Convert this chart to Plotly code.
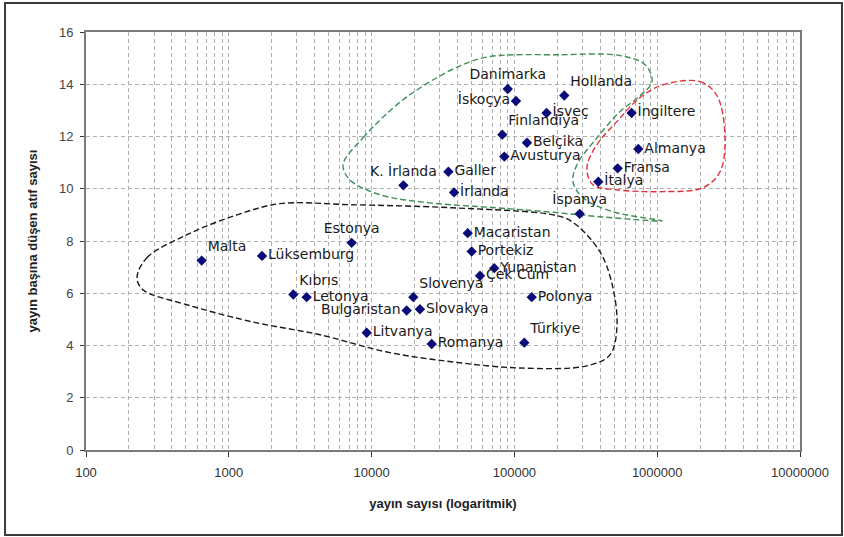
import plotly.graph_objects as go

# ---- data ----
countries = ["Danimarka", "İskoçya", "Hollanda", "İsveç", "Finlandiya", "Belçika",
             "Avusturya", "Galler", "K. İrlanda", "İrlanda", "İspanya",
             "İngiltere", "Almanya", "Fransa", "İtalya",
             "Malta", "Lüksemburg", "Estonya", "Kıbrıs", "Letonya", "Slovenya",
             "Bulgaristan", "Slovakya", "Litvanya", "Romanya",
             "Macaristan", "Portekiz", "Yunanistan", "Çek Cum", "Polonya", "Türkiye"]
publications = [89800, 102600, 223600, 168000, 82300, 122500,
                85000, 34500, 16700, 37800, 286500,
                662000, 737600, 528800, 387000,
                646, 1708, 7250, 2830, 3510, 19600,
                17600, 21800, 9240, 26360,
                47100, 50200, 72300, 57400, 132200, 117300]
citations_per_pub = [13.82, 13.36, 13.57, 12.90, 12.07, 11.76,
                     11.23, 10.65, 10.13, 9.86, 9.04,
                     12.90, 11.52, 10.78, 10.27,
                     7.25, 7.43, 7.93, 5.95, 5.85, 5.85,
                     5.34, 5.39, 4.49, 4.06,
                     8.30, 7.60, 6.96, 6.67, 5.85, 4.11]

# hand-drawn group outlines (data units)
green_x = [6310, 8710, 15070, 25650, 43650, 67450, 208400, 548000, 822000, 920000,
           758600, 548000, 378400, 274200, 257000, 302000, 489800, 1081000,
           397000, 169000, 75500, 25650, 11460, 7060, 6310]
green_y = [10.92, 11.95, 13.22, 14.10, 14.75, 15.06, 15.13, 15.10, 14.75, 14.10,
           13.56, 12.95, 11.95, 10.92, 10.27, 9.66, 9.12, 8.77,
           8.93, 9.12, 9.27, 9.46, 9.77, 10.34, 10.92]
red_x = [1099000, 1995000, 2624000, 2985000, 2754000, 2094000, 1099000,
         522000, 354800, 322000, 378400, 522000, 758600, 1099000]
red_y = [13.98, 14.10, 13.56, 11.95, 10.65, 10.04, 9.89,
         9.96, 10.15, 10.80, 11.69, 12.57, 13.49, 13.98]
black_x = [227.5, 267, 509, 1140, 2285, 7060, 37150, 186200, 253000, 397000,
           489800, 522000, 466600, 322000, 109400, 37150, 12820, 4355, 1476,
           509, 251, 227.5]
black_y = [6.59, 7.36, 8.24, 9.00, 9.43, 9.39, 9.27, 9.00, 8.74, 7.59,
           6.21, 4.67, 3.64, 3.22, 3.14, 3.37, 3.75, 4.41, 4.90,
           5.56, 6.13, 6.59]

x_tick_vals = [100, 1000, 10000, 100000, 1000000, 10000000]
x_tick_text = ["100", "1000", "10000", "100000", "1000000", "10000000"]
y_tick_vals = [0, 2, 4, 6, 8, 10, 12, 14, 16]

x_title = "yayın sayısı (logaritmik)"
y_title = "yayın başına düşen atıf sayısı"

# label placement (style)
label_pos = ["top center", "middle left", "top right", "middle right", "top right", "middle right",
             "middle right", "middle right", "top center", "middle right", "top center",
             "middle right", "middle right", "middle right", "middle right",
             "top right", "middle right", "top center", "top right", "middle right", "top right",
             "middle left", "middle right", "middle right", "middle right",
             "middle right", "middle right", "middle right", "middle right", "middle right", "top right"]

fig = go.Figure()

for ox, oy, col in [(green_x, green_y, "#3f8f55"), (red_x, red_y, "#e0303c"), (black_x, black_y, "#1a1a1a")]:
    fig.add_trace(go.Scatter(x=ox, y=oy, mode="lines",
                             line=dict(color=col, width=1.4, dash="6px,3px", shape="spline", smoothing=1.0),
                             hoverinfo="skip", showlegend=False))

fig.add_trace(go.Scatter(
    x=publications, y=citations_per_pub, mode="markers+text",
    text=countries, textposition=label_pos,
    textfont=dict(family="DejaVu Sans", size=14, color="#1a1a1a"),
    marker=dict(symbol="diamond", size=8, color="#0a0a78"),
    showlegend=False,
))

grid = dict(gridcolor="#b0b0b0", griddash="4px,3px", gridwidth=1)

fig.update_xaxes(
    type="log", range=[2, 7],
    tickvals=x_tick_vals, ticktext=x_tick_text,
    ticks="outside", ticklen=5, tickcolor="#333",
    tickfont=dict(family="Liberation Sans", size=13, color="#333"),
    ticklabelstandoff=4,
    showgrid=True, **grid,
    minor=dict(dtick="D1", showgrid=True, gridcolor="#b0b0b0", griddash="4px,3px", gridwidth=1, ticks=""),
    showline=True, mirror=True, linecolor="#7a7a7a", linewidth=2,
    zeroline=False,
    title=dict(text=x_title, font=dict(family="Liberation Sans", size=13, color="#222", weight="bold"), standoff=20),
)
fig.update_yaxes(
    range=[0, 16], tickvals=y_tick_vals,
    ticks="outside", ticklen=4, tickcolor="#333",
    tickfont=dict(family="Liberation Sans", size=13, color="#444"),
    ticklabelstandoff=4,
    showgrid=True, **grid,
    showline=True, mirror=True, linecolor="#7a7a7a", linewidth=2,
    zeroline=False,
    title=dict(text=y_title, font=dict(family="Liberation Sans", size=13, color="#222", weight="bold"), standoff=18),
)

fig.update_layout(
    width=844, height=537,
    margin=dict(l=86, r=44, t=32, b=87),
    paper_bgcolor="white", plot_bgcolor="white",
    showlegend=False,
    shapes=[dict(type="rect", xref="paper", yref="paper",
                 x0=-0.1134, x1=1.0588, y0=-0.2033, y1=1.0694,
                 line=dict(color="#3a3a3a", width=2), layer="below")],
)

fig.write_html("out.html", config={"displayModeBar": False},
               post_script="document.body.style.margin='0px';document.body.style.overflow='hidden';")
